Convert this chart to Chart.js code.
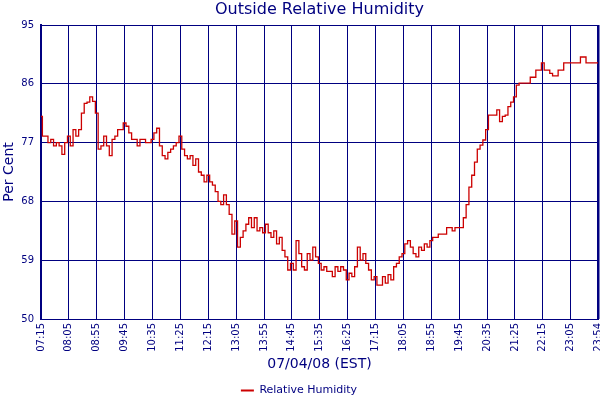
<!DOCTYPE html>
<html>
<head>
<meta charset="utf-8">
<title>Outside Relative Humidity</title>
<script src="https://cdn.jsdelivr.net/npm/chart.js@4.4.1/dist/chart.umd.min.js"></script>
<style>
  html, body { margin: 0; padding: 0; background: #fff; }
  #wrap { width: 600px; height: 400px; }
</style>
</head>
<body>
<div id="wrap"><canvas id="cHum" width="600" height="400"></canvas></div>
<script>
// ============================================================
// data (07/04/08, one reading every 5 min from 07:15, last one at 23:54)
const SAMPLE_MIN = 5;
const END_MIN = 999;
const humidity = [
  81, 78, 78, 77, 77.5, 76.5, 77, 76.5, 75.2, 77,
  78, 76.5, 79, 78, 79, 81.5, 83, 83.2, 84, 83.3,
  81.5, 76, 76.5, 78, 76.5, 75, 77.5, 78, 79, 79,
  80, 79.5, 78.5, 77.5, 77.5, 76.5, 77.5, 77.5, 77, 77,
  77.5, 78.5, 79.2, 76.5, 75, 74.5, 75.5, 76, 76.5, 77,
  78, 76, 75, 74.5, 75, 73.5, 74.5, 72.5, 72, 71,
  72, 71, 70.5, 69.5, 68, 67.5, 69, 67.5, 66, 63,
  65, 61, 62.5, 63.5, 64.5, 65.5, 64, 65.5, 63.5, 64,
  63.2, 64.5, 63.2, 62.5, 63.5, 61.5, 62.5, 60.5, 59.5, 57.5,
  58.5, 57.5, 62, 60, 58, 57.5, 60, 59, 61, 59.5,
  58.5, 57.5, 58, 57.3, 57.3, 56.5, 58, 57.3, 58, 57.5,
  56, 57, 56.5, 58, 61, 59, 60, 58.5, 57.5, 56,
  56.5, 55.2, 55.2, 56.5, 55.5, 56.8, 56, 58, 58.5, 59.5,
  60, 61.5, 62, 61, 60, 59.5, 61, 60.5, 61.5, 61,
  62, 62.5, 62.5, 63, 63, 63, 64, 64, 63.5, 64,
  64, 64, 65.5, 67.5, 70.2, 72, 74, 76, 76.6, 77.4,
  79, 81.2, 81.2, 81.2, 82, 80.2, 81, 81.2, 82.5, 83.2,
  84, 85.8, 86.1, 86.1, 86.1, 86.1, 87, 87, 88.1, 88.1,
  89.2, 88.1, 88.1, 87.6, 87.2, 87.2, 88.1, 88.1, 89.2, 89.2,
  89.2, 89.2, 89.2, 89.2, 90.1, 90.1, 89.2, 89.2, 89.2, 89.2,
  89.2
];
const xTickLabels = ['07:15','08:05','08:55','09:45','10:35','11:25','12:15','13:05','13:55','14:45',
  '15:35','16:25','17:15','18:05','18:55','19:45','20:35','21:25','22:15','23:05','23:54'];
const yTicks = [50, 59, 68, 77, 86, 95];

const NAVY = '#000080';
const RED  = '#cc0000';
const FONT = 'DejaVu Sans';

// minutes since 07:15 for a "HH:MM" label
const toMin = s => { const [h, m] = s.split(':').map(Number); return h * 60 + m - (7 * 60 + 15); };
const tickMins = xTickLabels.map(toMin);
const labelAt = {};
xTickLabels.forEach((l, i) => { labelAt[tickMins[i]] = l; });

const points = humidity.map((v, i) => ({ x: Math.min(i * SAMPLE_MIN, END_MIN), y: v }));

new Chart(document.getElementById('cHum').getContext('2d'), {
  type: 'line',
  data: { datasets: [{
    label: 'Relative Humidity',
    data: points,
    borderColor: RED, backgroundColor: RED,
    borderWidth: 1.3, pointRadius: 0, fill: false, stepped: 'middle',
  }]},
  options: {
    responsive: false, animation: false,
    layout: { padding: { left: 0, right: 2, top: 0, bottom: 0 } },
    plugins: {
      tooltip: { enabled: false },
      title: {
        display: true, text: 'Outside Relative Humidity', fullSize: false,
        color: NAVY, font: { family: FONT, size: 16, weight: 'normal' },
        padding: { top: 0, bottom: 5.8 },
      },
      legend: {
        position: 'bottom', maxHeight: 25,
        labels: {
          color: NAVY, font: { family: FONT, size: 11 }, boxWidth: 13, boxHeight: 2, padding: 10,
          generateLabels: chart => Chart.defaults.plugins.legend.labels.generateLabels(chart)
            .map(l => ({ ...l, lineWidth: 0, fillStyle: RED })),
        },
      },
    },
    scales: {
      x: {
        type: 'linear', min: 0, max: END_MIN,
        afterBuildTicks: s => { s.ticks = tickMins.map(v => ({ value: v })); },
        afterFit: s => { s.height = 56; s.paddingLeft = 0; s.paddingRight = 0; },
        ticks: {
          color: NAVY, font: { family: FONT, size: 10 }, padding: 4,
          minRotation: 90, maxRotation: 90, autoSkip: false,
          callback: v => labelAt[v] || '',
        },
        grid: {
          color: NAVY, drawTicks: false,
          lineWidth: c => (c.tick && c.tick.value === END_MIN ? 2.5 : 1),
        },
        border: { color: NAVY, width: 1 },
        title: { display: true, text: '07/04/08 (EST)', color: NAVY, font: { family: FONT, size: 14 }, padding: { top: 0, bottom: 2 } },
      },
      y: {
        min: 50, max: 95,
        afterBuildTicks: s => { s.ticks = yTicks.map(v => ({ value: v })); },
        afterFit: s => { s.width = 41; },
        ticks: { color: NAVY, font: { family: FONT, size: 10 }, padding: 7 },
        grid: { color: NAVY, drawTicks: false, lineWidth: 1 },
        border: { color: NAVY, width: 2 },
        title: { display: true, text: 'Per Cent', color: NAVY, font: { family: FONT, size: 14 }, padding: { top: 1, bottom: 0 } },
      },
    },
  },
});
</script>
</body>
</html>
